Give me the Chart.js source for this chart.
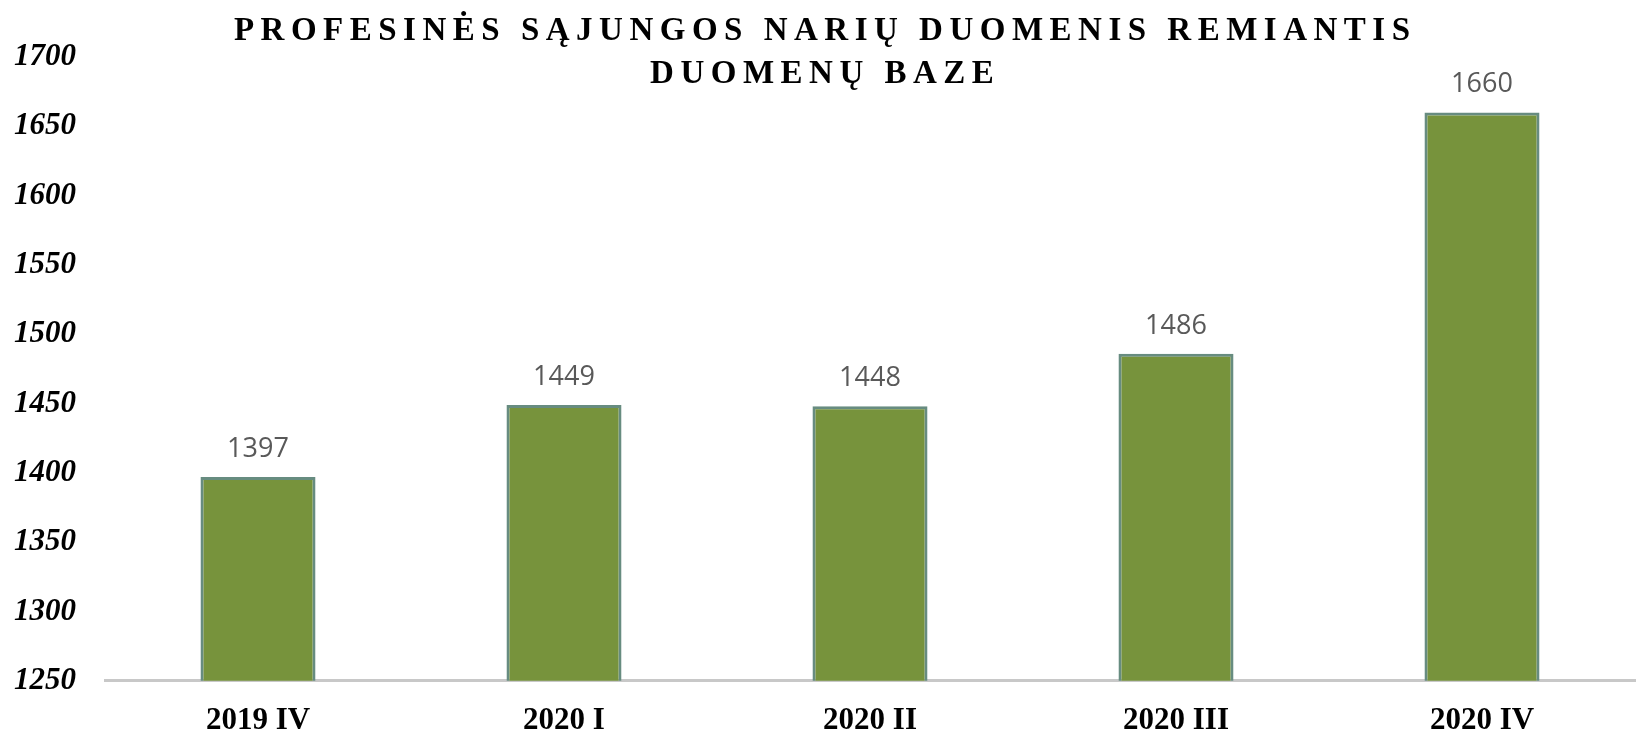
<!DOCTYPE html>
<html>
<head>
<meta charset="utf-8">
<script src="https://cdn.jsdelivr.net/npm/chart.js@4"></script>
<style>
  html, body { margin: 0; padding: 0; background: #fff; }
  #wrap { width: 1637px; height: 731px; }
</style>
</head>
<body>
<div id="wrap"><canvas id="myChart" width="1637" height="731"></canvas></div>
<script>
// data
const quarters = ["2019 IV", "2020 I", "2020 II", "2020 III", "2020 IV"];
const members = [1397, 1449, 1448, 1486, 1660];
const titleLines = ["PROFESINĖS SĄJUNGOS NARIŲ DUOMENIS REMIANTIS", "DUOMENŲ BAZE"];
const yMin = 1250;
const yMax = 1700;
const yStep = 50;

// spaced-out title, drawn over the plot like the original
const titlePlugin = {
    id: "spacedTitle",
    afterDraw(chart) {
        const ctx = chart.ctx;
        ctx.save();
        ctx.font = 'bold 33px "Liberation Serif"';
        ctx.fillStyle = "#000";
        ctx.textAlign = "center";
        ctx.textBaseline = "alphabetic";
        const sp = 6.5;
        ctx.letterSpacing = sp + "px";
        const cx = 822 + sp / 2;
        ctx.fillText(titleLines[0], cx, 40);
        ctx.fillText(titleLines[1], cx, 83);
        ctx.restore();
    }
};

// value labels above the bars
const valuePlugin = {
    id: "values",
    afterDatasetsDraw(chart) {
        const ctx = chart.ctx;
        const meta = chart.getDatasetMeta(0);
        ctx.save();
        ctx.font = '27px "Open Sans"';
        ctx.fillStyle = "#595959";
        ctx.textAlign = "center";
        ctx.textBaseline = "alphabetic";
        meta.data.forEach(function (bar, i) {
            ctx.fillText(String(members[i]), bar.x, bar.y - 20);
        });
        ctx.restore();
    }
};

new Chart("myChart", {
    type: "bar",
    data: {
        labels: quarters,
        datasets: [{
            data: members,
            backgroundColor: "#77933C",
            borderColor: "#678c80",
            borderWidth: 3,
            borderSkipped: false,
            categoryPercentage: 1,
            barPercentage: 0.376
        }]
    },
    options: {
        responsive: false,
        animation: false,
        layout: { padding: { top: 57, left: 14, right: 2, bottom: -23 } },
        plugins: {
            legend: { display: false },
            title: { display: false },
            tooltip: { enabled: false }
        },
        scales: {
            x: {
                grid: { display: false },
                border: { display: true, color: "#c8c8c8", width: 3 },
                ticks: {
                    color: "#000",
                    padding: 14,
                    font: { family: '"Liberation Serif"', size: 31, weight: "bold" }
                }
            },
            y: {
                min: yMin,
                max: yMax,
                grid: { display: false, drawTicks: false },
                border: { display: false },
                afterFit: function (scale) { scale.width = 91; },
                ticks: {
                    stepSize: yStep,
                    color: "#000",
                    padding: 28,
                    crossAlign: "far",
                    callback: function (v) { return String(v); },
                    font: { family: '"Liberation Serif"', size: 31, weight: "bold", style: "italic" }
                }
            }
        }
    },
    plugins: [titlePlugin, valuePlugin]
});
</script>
</body>
</html>
